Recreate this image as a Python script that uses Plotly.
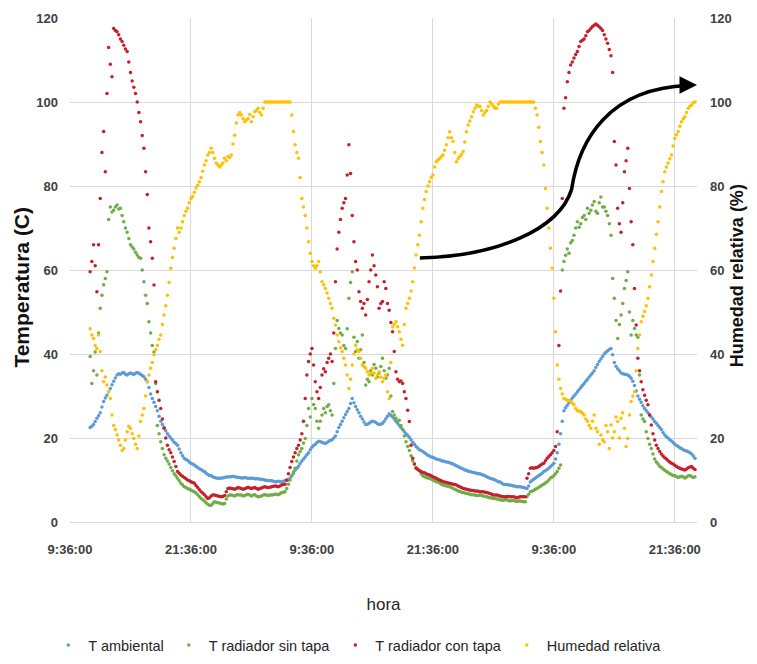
import plotly.graph_objects as go
import pandas as pd

# ---- data: 10-min samples, first sample at 11:36 of day 1 ----
start_time = "2019-03-01 11:36"
sample_step = "10min"
tick_labels = ["9:36:00", "21:36:00", "9:36:00", "21:36:00", "9:36:00", "21:36:00"]
y_ticks = [0, 20, 40, 60, 80, 100, 120]

t_ambiental = [
    22.5, 22.8, 23.2, 23.9, 24.7, 25.3,
    26.0, 27.4, 28.7, 29.5, 30.2, 31.0,
    31.8, 32.7, 33.5, 34.3, 35.0, 35.3,
    35.2, 35.5, 35.6, 35.2, 35.0, 35.3,
    35.5, 35.3, 35.1, 35.4, 35.6, 35.4,
    35.2, 34.9, 34.6, 34.0, 33.4, 32.0,
    30.5, 29.4, 28.5, 27.5, 26.5, 25.2,
    24.0, 23.2, 22.5, 21.7, 21.0, 20.5,
    20.0, 19.5, 19.0, 18.7, 18.3, 17.4,
    16.5, 15.8, 15.2, 14.9, 14.7, 14.3,
    14.0, 13.8, 13.6, 13.3, 13.0, 12.7,
    12.5, 12.2, 12.0, 11.6, 11.3, 11.1,
    11.0, 10.8, 10.6, 10.5, 10.4, 10.4,
    10.5, 10.5, 10.6, 10.7, 10.7, 10.8,
    10.8, 10.9, 10.8, 10.7, 10.6, 10.6,
    10.5, 10.5, 10.6, 10.5, 10.4, 10.4,
    10.4, 10.4, 10.3, 10.3, 10.3, 10.2,
    10.2, 10.1, 10.0, 9.9, 9.9, 9.8,
    9.8, 9.7, 9.6, 9.6, 9.7, 9.6,
    9.6, 9.7, 9.8, 9.9, 10.0, 10.5,
    11.0, 11.6, 12.3, 12.8, 13.3, 13.9,
    14.5, 15.0, 15.5, 16.0, 16.5, 17.2,
    17.8, 18.2, 18.5, 18.9, 19.2, 19.1,
    19.0, 18.8, 18.7, 18.9, 19.2, 19.4,
    19.6, 20.0, 20.5, 21.5, 22.5, 23.2,
    24.0, 24.8, 25.6, 26.3, 27.0, 28.2,
    29.4, 28.4, 27.5, 26.7, 26.0, 25.2,
    24.5, 23.8, 23.2, 23.3, 23.5, 23.8,
    24.0, 23.9, 23.7, 23.4, 23.2, 23.3,
    23.5, 24.0, 24.6, 25.2, 25.8, 25.4,
    25.0, 24.5, 24.0, 23.5, 23.0, 22.5,
    22.0, 21.5, 21.0, 20.6, 20.2, 19.6,
    19.0, 18.5, 18.0, 17.6, 17.2, 17.0,
    16.8, 16.5, 16.2, 15.9, 15.7, 15.5,
    15.4, 15.2, 15.0, 14.9, 14.8, 14.6,
    14.5, 14.4, 14.3, 14.2, 14.1, 13.9,
    13.8, 13.6, 13.4, 13.2, 13.0, 12.8,
    12.6, 12.4, 12.3, 12.1, 12.0, 11.9,
    11.8, 11.7, 11.6, 11.5, 11.5, 11.3,
    11.2, 11.0, 10.8, 10.6, 10.4, 10.3,
    10.2, 10.0, 9.8, 9.6, 9.5, 9.2,
    9.0, 8.9, 8.9, 8.8, 8.8, 8.7,
    8.6, 8.5, 8.4, 8.4, 8.4, 8.3,
    8.2, 8.1, 8.0, 8.6, 9.5, 9.9,
    10.2, 10.5, 10.8, 11.0, 11.3, 11.6,
    12.0, 12.2, 12.5, 12.8, 13.2, 13.6,
    14.0, 15.0, 16.5, 18.5, 21.0, 24.0,
    26.5, 27.2, 27.8, 28.4, 29.0, 29.5,
    30.0, 30.5, 31.0, 31.5, 32.0, 32.5,
    33.0, 33.5, 34.0, 34.5, 35.0, 35.5,
    36.0, 36.8, 37.5, 38.2, 38.8, 39.4,
    40.0, 40.4, 40.8, 41.1, 41.3, 39.8,
    38.0, 37.1, 36.5, 36.0, 35.5, 35.3,
    35.2, 35.1, 35.0, 34.7, 34.2, 33.5,
    32.5, 31.2, 30.0, 29.2, 28.5, 27.7,
    27.0, 26.5, 26.0, 25.5, 25.0, 24.5,
    23.9, 23.5, 23.0, 22.5, 22.0, 21.3,
    20.7, 20.3, 20.0, 19.6, 19.3, 18.9,
    18.5, 18.2, 18.0, 17.7, 17.5, 17.2,
    17.0, 16.9, 16.7, 16.5, 16.2, 15.7,
    15.2,
]

t_sin_tapa = [
    39.4, 33.0, 36.0, 40.5, 35.0, 45.0,
    50.9, 54.0, 56.5, 58.0, 59.6, 72.0,
    75.0, 73.8, 74.2, 75.0, 75.5, 74.5,
    74.7, 73.0, 71.5, 70.0, 69.0, 67.5,
    66.0, 65.5, 65.0, 64.2, 63.6, 63.0,
    62.8, 60.0, 57.2, 54.0, 52.0, 47.7,
    45.0, 42.0, 40.5, 33.0, 23.0, 21.0,
    19.1, 17.5, 16.0, 15.2, 14.5, 13.8,
    13.0, 12.2, 11.5, 11.0, 10.4, 9.8,
    9.2, 8.8, 8.4, 8.2, 8.0, 7.8,
    7.6, 7.4, 7.2, 6.9, 6.5, 6.0,
    5.6, 5.3, 5.0, 4.6, 4.2, 4.0,
    4.0, 4.4, 4.8, 4.7, 4.6, 4.5,
    4.4, 4.3, 4.4, 5.5, 6.2, 6.4,
    6.4, 6.3, 6.2, 6.4, 6.5, 6.4,
    6.4, 6.2, 6.3, 6.5, 6.6, 6.4,
    6.2, 6.4, 6.5, 6.2, 6.0, 6.1,
    6.2, 6.4, 6.5, 6.4, 6.3, 6.4,
    6.4, 6.5, 6.6, 6.6, 6.5, 6.7,
    7.0, 7.1, 7.2, 8.0, 9.0, 10.0,
    11.0, 11.9, 12.8, 14.5, 16.0, 16.8,
    17.5, 18.8, 19.9, 23.0, 27.0, 25.0,
    29.4, 28.0, 27.0, 24.0, 22.3, 24.0,
    25.5, 27.0, 26.0, 27.5, 27.9, 26.5,
    25.5, 33.0, 41.3, 48.0, 46.1, 45.0,
    44.5, 42.0, 41.3, 46.0, 53.3, 57.0,
    59.6, 44.0, 40.6, 43.0, 39.0, 41.0,
    44.5, 38.0, 32.6, 34.0, 33.4, 36.0,
    35.0, 37.5, 36.6, 34.5, 35.5, 37.0,
    39.0, 36.0, 34.2, 35.0, 36.6, 30.0,
    26.3, 25.5, 24.7, 24.0, 24.2, 23.0,
    22.0, 20.5, 19.1, 18.0, 17.0, 15.8,
    14.6, 13.8, 13.0, 12.6, 12.2, 11.5,
    11.0, 10.8, 10.6, 10.5, 10.4, 10.2,
    10.0, 9.8, 9.6, 9.5, 9.3, 9.0,
    8.8, 8.7, 8.6, 8.5, 8.4, 8.2,
    8.0, 7.8, 7.6, 7.4, 7.3, 7.1,
    7.0, 6.9, 6.8, 6.7, 6.6, 6.5,
    6.5, 6.4, 6.3, 6.3, 6.4, 6.3,
    6.2, 6.1, 6.0, 5.9, 5.8, 5.7,
    5.6, 5.6, 5.5, 5.4, 5.3, 5.2,
    5.2, 5.3, 5.3, 5.1, 5.0, 5.1,
    5.1, 5.0, 4.9, 5.0, 5.0, 4.9,
    4.8, 4.8, 6.0, 6.6, 7.2, 7.3,
    7.5, 7.8, 8.0, 8.3, 8.5, 8.8,
    9.0, 9.3, 9.6, 10.0, 10.5, 10.7,
    11.0, 11.5, 12.0, 12.8, 13.6, 60.0,
    62.0, 63.5, 65.0, 64.0, 66.5, 67.0,
    68.3, 70.0, 71.5, 70.2, 71.0, 72.5,
    73.0, 72.0, 74.7, 73.5, 74.2, 75.5,
    76.3, 74.0, 73.5, 76.0, 77.4, 75.0,
    75.0, 74.0, 73.0, 71.0, 68.3, 58.0,
    53.3, 48.0, 43.7, 47.0, 49.3, 52.0,
    55.6, 57.5, 59.6, 50.0, 44.5, 48.0,
    46.1, 44.5, 44.0, 35.0, 25.5, 24.5,
    23.9, 21.5, 19.9, 18.5, 17.5, 16.2,
    15.0, 14.3, 13.8, 13.3, 13.0, 12.6,
    12.3, 12.0, 11.8, 11.5, 11.3, 11.1,
    11.0, 10.8, 10.6, 10.8, 10.9, 10.7,
    10.5, 10.7, 11.0, 11.1, 10.8, 10.6,
    10.8,
]

t_con_tapa = [
    59.6, 62.0, 66.0, 61.0, 54.8, 66.0,
    77.0, 88.0, 93.0, 83.4, 102.0, 113.0,
    109.0, 106.0, 117.5, 117.0, 116.7, 116.0,
    115.0, 114.4, 113.5, 112.6, 112.0, 109.5,
    107.0, 105.0, 103.5, 102.0, 100.0, 97.5,
    95.3, 92.0, 89.0, 83.4, 78.0, 70.0,
    66.7, 62.8, 56.4, 33.4, 31.0, 29.0,
    27.0, 24.5, 22.3, 20.0, 18.3, 17.2,
    16.5, 15.5, 14.4, 13.2, 12.0, 11.6,
    11.2, 10.9, 10.6, 10.3, 10.0, 9.8,
    9.6, 9.4, 9.2, 8.7, 8.2, 7.7,
    7.2, 6.9, 6.5, 6.0, 5.6, 5.8,
    6.2, 6.4, 6.4, 6.3, 6.2, 6.1,
    6.0, 6.1, 6.3, 7.2, 8.0, 8.1,
    8.0, 7.9, 7.8, 8.0, 8.2, 8.1,
    8.0, 7.8, 7.9, 8.1, 8.3, 8.1,
    8.0, 8.1, 8.2, 8.0, 7.8, 8.0,
    8.1, 8.3, 8.4, 8.3, 8.2, 8.3,
    8.4, 8.5, 8.6, 8.5, 8.4, 8.6,
    8.8, 8.9, 9.0, 10.0, 11.5, 13.0,
    14.4, 15.5, 16.5, 17.5, 18.3, 19.5,
    21.0, 24.0, 29.4, 35.0, 38.2, 40.0,
    41.3, 37.4, 33.4, 31.0, 29.4, 32.0,
    35.0, 36.5, 35.8, 38.0, 39.0, 40.0,
    38.2, 45.0, 57.2, 65.0, 69.0, 72.0,
    74.7, 76.0, 77.0, 82.6, 89.8, 83.0,
    73.0, 66.7, 62.0, 60.0, 54.8, 52.5,
    50.9, 52.0, 49.3, 53.0, 57.2, 60.0,
    63.6, 61.0, 58.8, 56.0, 50.9, 52.0,
    52.5, 57.2, 55.6, 52.0, 50.4, 47.5,
    45.3, 40.6, 35.8, 34.0, 33.4, 33.6,
    33.0, 31.0, 29.4, 26.6, 23.9, 18.3,
    15.2, 13.8, 12.8, 12.5, 12.2, 12.0,
    11.8, 11.7, 11.5, 11.3, 11.2, 11.0,
    10.8, 10.6, 10.4, 10.2, 10.0, 9.8,
    9.6, 9.5, 9.4, 9.3, 9.2, 9.1,
    9.0, 8.9, 8.8, 8.6, 8.4, 8.2,
    8.0, 7.9, 7.8, 7.7, 7.6, 7.5,
    7.5, 7.4, 7.4, 7.3, 7.2, 7.2,
    7.2, 7.1, 7.0, 6.9, 6.8, 6.6,
    6.4, 6.4, 6.4, 6.3, 6.2, 6.1,
    6.0, 6.0, 6.1, 6.1, 6.0, 6.0,
    6.0, 5.9, 5.8, 5.9, 6.0, 6.0,
    6.0, 6.0, 10.4, 11.5, 12.8, 12.9,
    12.8, 12.9, 13.0, 13.2, 13.5, 13.8,
    14.0, 14.6, 15.2, 15.6, 16.0, 16.5,
    17.0, 18.0, 21.5, 42.0, 55.0, 77.0,
    98.5, 101.0, 104.8, 107.0, 108.8, 109.5,
    110.5, 111.3, 112.0, 113.2, 114.4, 114.7,
    115.0, 115.8, 116.7, 117.0, 117.5, 118.0,
    118.3, 118.6, 118.3, 117.9, 117.5, 117.0,
    116.0, 115.0, 114.0, 112.5, 111.0, 107.0,
    90.6, 85.0, 74.7, 71.0, 69.0, 76.0,
    83.4, 86.0, 89.0, 79.4, 71.5, 66.0,
    55.6, 46.9, 39.0, 36.0, 33.4, 31.5,
    30.2, 29.0, 27.9, 25.5, 23.1, 21.0,
    19.5, 18.3, 17.5, 16.8, 16.2, 15.7,
    15.3, 15.0, 14.6, 14.3, 14.0, 13.8,
    13.5, 13.2, 13.0, 12.8, 12.6, 12.5,
    12.4, 12.6, 12.9, 13.1, 13.2, 12.8,
    12.5,
]

humedad = [
    46.0, 44.5, 43.7, 42.0, 41.3, 44.5,
    40.6, 36.0, 33.4, 34.5, 32.6, 31.0,
    29.4, 25.5, 23.0, 22.0, 20.7, 19.5,
    18.3, 17.0, 17.5, 19.5, 21.5, 22.8,
    22.3, 21.0, 19.9, 18.5, 17.5, 20.5,
    23.9, 25.5, 27.0, 30.0, 33.4, 35.0,
    36.6, 38.0, 39.8, 41.0, 42.0, 43.5,
    44.5, 47.0, 49.3, 51.5, 54.0, 57.0,
    60.4, 63.0, 65.2, 67.5, 70.0, 69.0,
    70.0, 71.5, 73.0, 74.0, 74.7, 76.0,
    77.0, 77.5, 78.5, 79.5, 80.2, 81.0,
    82.0, 83.5, 85.0, 86.0, 87.4, 88.0,
    89.0, 88.0, 86.6, 85.5, 85.0, 84.5,
    85.0, 85.5, 86.6, 86.0, 87.0, 86.8,
    87.4, 90.0, 92.1, 95.0, 96.9, 97.5,
    96.9, 96.0, 95.3, 95.8, 96.0, 97.0,
    95.3, 96.5, 97.7, 98.0, 98.5, 97.5,
    96.9, 98.5, 100.0, 100.0, 100.0, 100.0,
    100.0, 100.0, 100.0, 100.0, 100.0, 100.0,
    100.0, 100.0, 100.0, 100.0, 100.0, 100.0,
    96.9, 93.0, 89.8, 88.0, 86.6, 82.0,
    77.0, 75.0, 73.0, 70.0, 66.7, 64.0,
    62.0, 61.0, 60.4, 61.0, 62.0, 59.5,
    57.2, 56.5, 55.6, 54.5, 53.3, 52.0,
    50.9, 48.5, 46.9, 44.5, 42.9, 41.5,
    40.6, 39.0, 37.4, 35.0, 31.8, 34.0,
    37.4, 40.0, 42.1, 41.0, 40.6, 39.0,
    37.4, 37.0, 36.6, 35.8, 35.0, 35.5,
    36.6, 35.5, 34.2, 35.0, 35.8, 34.5,
    33.4, 34.2, 35.0, 31.0, 29.4, 38.0,
    46.4, 47.0, 47.7, 46.5, 45.3, 43.5,
    42.1, 47.0, 50.9, 52.0, 53.3, 55.0,
    57.2, 60.5, 63.6, 66.0, 68.3, 71.5,
    74.7, 76.8, 78.7, 80.0, 81.0, 82.0,
    82.6, 84.5, 85.8, 86.2, 86.5, 87.0,
    87.4, 88.5, 89.8, 91.5, 92.9, 91.5,
    90.6, 88.0, 85.8, 86.5, 87.0, 87.5,
    88.2, 90.5, 92.9, 94.5, 95.5, 96.5,
    97.7, 98.5, 99.3, 99.0, 99.0, 98.0,
    96.9, 97.5, 98.0, 99.0, 100.0, 99.5,
    99.0, 98.5, 98.5, 99.5, 100.0, 100.0,
    100.0, 100.0, 100.0, 100.0, 100.0, 100.0,
    100.0, 100.0, 100.0, 100.0, 100.0, 100.0,
    100.0, 100.0, 100.0, 100.0, 100.0, 100.0,
    100.0, 98.5, 96.9, 94.0, 90.6, 88.0,
    85.0, 79.4, 74.7, 70.0, 65.2, 60.4,
    53.3, 45.3, 37.4, 34.0, 31.8, 30.5,
    29.4, 29.2, 29.0, 28.9, 28.7, 28.3,
    27.9, 27.0, 26.5, 26.4, 26.3, 25.9,
    25.5, 24.5, 24.0, 23.0, 22.3, 24.0,
    25.5, 22.3, 21.5, 18.5, 20.7, 19.5,
    19.1, 23.0, 21.5, 17.5, 23.1, 20.0,
    21.5, 25.0, 23.9, 20.0, 24.7, 26.0,
    22.3, 18.0, 19.9, 25.5, 28.7, 30.0,
    31.0, 36.0, 41.3, 44.5, 47.7, 49.0,
    50.1, 51.5, 53.3, 56.0, 58.8, 62.0,
    65.2, 68.5, 71.5, 75.0, 78.7, 81.0,
    83.4, 84.5, 85.5, 86.5, 87.4, 89.5,
    91.3, 92.2, 93.0, 94.2, 95.3, 96.0,
    96.5, 97.5, 98.5, 99.0, 99.3, 99.8,
    100.0,
]

series_names = ["T ambiental", "T radiador sin tapa", "T radiador con tapa", "Humedad relativa"]
series_colors = ["#5B9BD5", "#70AD47", "#C5202B", "#FFC000"]

# ---- figure ----
def sample_times(values):
    return pd.date_range(start_time, periods=len(values), freq=sample_step)

tick_times = pd.date_range("2019-03-01 09:36", periods=len(tick_labels), freq="12h")

fig = go.Figure()
for name, vals, col in zip(series_names[:3], [t_ambiental, t_sin_tapa, t_con_tapa], series_colors[:3]):
    fig.add_trace(go.Scatter(x=sample_times(vals), y=vals, mode="markers", name=name,
                             marker=dict(color=col, size=3.5, line=dict(width=0))))
fig.add_trace(go.Scatter(x=sample_times(humedad), y=humedad, mode="markers",
                         name=series_names[3], yaxis="y2",
                         marker=dict(color=series_colors[3], size=3.5, line=dict(width=0))))

tick_font = dict(family="Liberation Sans, Arial, sans-serif", size=13, color="#404040", weight="bold")
title_font_l = dict(family="Liberation Sans, Arial, sans-serif", size=21, color="#111111", weight="bold")
title_font_r = dict(family="Liberation Sans, Arial, sans-serif", size=18, color="#111111", weight="bold")

fig.update_layout(
    width=749, height=656,
    paper_bgcolor="white", plot_bgcolor="white",
    margin=dict(l=62, r=60, t=10, b=142, autoexpand=False),
    showlegend=True,
    legend=dict(orientation="h", x=0.459, xanchor="center", y=-0.244, yanchor="middle",
                font=dict(family="Liberation Sans, Arial, sans-serif", size=14.5, color="#262626"),
                bgcolor="rgba(0,0,0,0)"),
    xaxis=dict(
        type="date",
        range=["2019-03-01 09:36", "2019-03-03 23:48"],
        tickmode="array", tickvals=tick_times, ticktext=tick_labels,
        showgrid=True, gridcolor="#D9D9D9", gridwidth=1,
        showline=True, linecolor="#D9D9D9", linewidth=1,
        zeroline=False, ticks="", tickfont=tick_font, ticklabelstandoff=15,
        title=dict(text="hora", standoff=42,
                   font=dict(family="Liberation Sans, Arial, sans-serif", size=17, color="#262626")),
        automargin=False,
    ),
    yaxis=dict(
        range=[0, 120], tickmode="array", tickvals=y_ticks,
        showgrid=True, gridcolor="#D9D9D9", gridwidth=1,
        zeroline=False, showline=False, ticks="", tickfont=tick_font, ticklabelstandoff=11,
        automargin=False,
    ),
    yaxis2=dict(
        overlaying="y", side="right",
        range=[0, 120], tickmode="array", tickvals=y_ticks,
        showgrid=False, zeroline=False, showline=False, ticks="",
        tickfont=tick_font, ticklabelstandoff=12,
        automargin=False,
    ),
    shapes=[dict(
        type="path", xref="paper", yref="paper",
        path="M 0.558,0.524 C 0.68,0.527 0.78,0.58 0.800,0.66 C 0.812,0.76 0.86,0.86 0.985,0.866",
        line=dict(color="black", width=3.5),
    )],
    annotations=[
        dict(x=1.0, y=0.867, xref="paper", yref="paper", text="", showarrow=True,
             ax=-14, ay=0, arrowhead=2, arrowsize=1, arrowwidth=3.5, arrowcolor="black"),
        dict(text="Temperatura (C)", x=-0.0774, y=0.466, xref="paper", yref="paper",
             showarrow=False, textangle=-90, font=title_font_l,
             xanchor="center", yanchor="middle"),
        dict(text="Humedad relativa (%)", x=1.064, y=0.488, xref="paper", yref="paper",
             showarrow=False, textangle=-90, font=title_font_r,
             xanchor="center", yanchor="middle"),
    ],
)

fig.write_html("out.html")
